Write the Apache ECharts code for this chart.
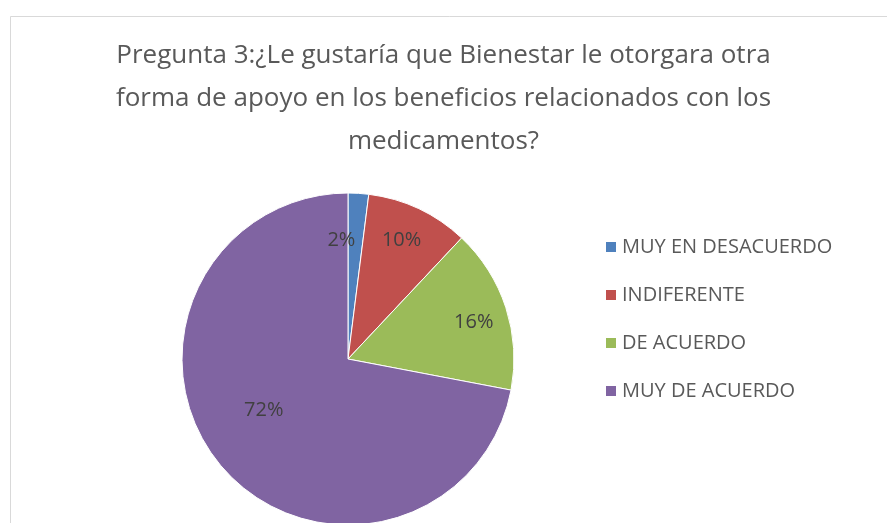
<!DOCTYPE html>
<html>
<head>
<meta charset="utf-8">
<script src="https://cdn.jsdelivr.net/npm/echarts@6/dist/echarts.min.js"></script>
<style>html,body{margin:0;padding:0;background:#fff}#c{width:887px;height:523px}</style>
</head>
<body>
<div id="c"></div>
<script>
var titleText = 'Pregunta 3:¿Le gustaría que Bienestar le otorgara otra\nforma de apoyo en los beneficios relacionados con los\nmedicamentos?';
var categories = ['MUY EN DESACUERDO', 'INDIFERENTE', 'DE ACUERDO', 'MUY DE ACUERDO'];
var values = [2, 10, 16, 72];
var colors = ['#4F81BD', '#C0504D', '#9BBB59', '#8064A2'];
var labelOffsets = [[-12, -33], [17, -41], [44, -10], [-18, -4]];

var chart = echarts.init(document.getElementById('c'));
chart.setOption({
  animation: false,
  backgroundColor: '#fff',
  graphic: [{
    type: 'rect', silent: true,
    shape: {x: 10.5, y: 16.5, width: 900, height: 520},
    style: {fill: 'none', stroke: '#D9D9D9', lineWidth: 1}
  }],
  title: {
    text: titleText,
    left: 'center',
    top: 29,
    textStyle: {fontFamily: 'Open Sans', fontSize: 26, fontWeight: 'normal', color: '#595959', lineHeight: 43}
  },
  legend: {
    orient: 'vertical',
    left: 604,
    top: 237,
    padding: 0,
    itemWidth: 12,
    itemHeight: 12,
    itemGap: 28,
    icon: 'rect',
    textStyle: {fontFamily: 'Open Sans', fontSize: 20, color: '#595959', lineHeight: 20, padding: [0, 0, 0, 0]},
    data: categories
  },
  series: [{
    type: 'pie',
    center: [348, 359],
    radius: 166,
    startAngle: 90,
    clockwise: true,
    color: colors,
    itemStyle: {borderColor: '#fff', borderWidth: 1},
    label: {
      show: true,
      position: 'inside',
      formatter: '{c}%',
      fontFamily: 'Open Sans',
      fontSize: 20,
      color: '#404040'
    },
    labelLine: {show: false},
    labelLayout: function (p) {
      var o = labelOffsets[p.dataIndex];
      return {dx: o[0], dy: o[1]};
    },
    data: categories.map(function (n, i) { return {name: n, value: values[i]}; })
  }]
});
</script>
</body>
</html>
